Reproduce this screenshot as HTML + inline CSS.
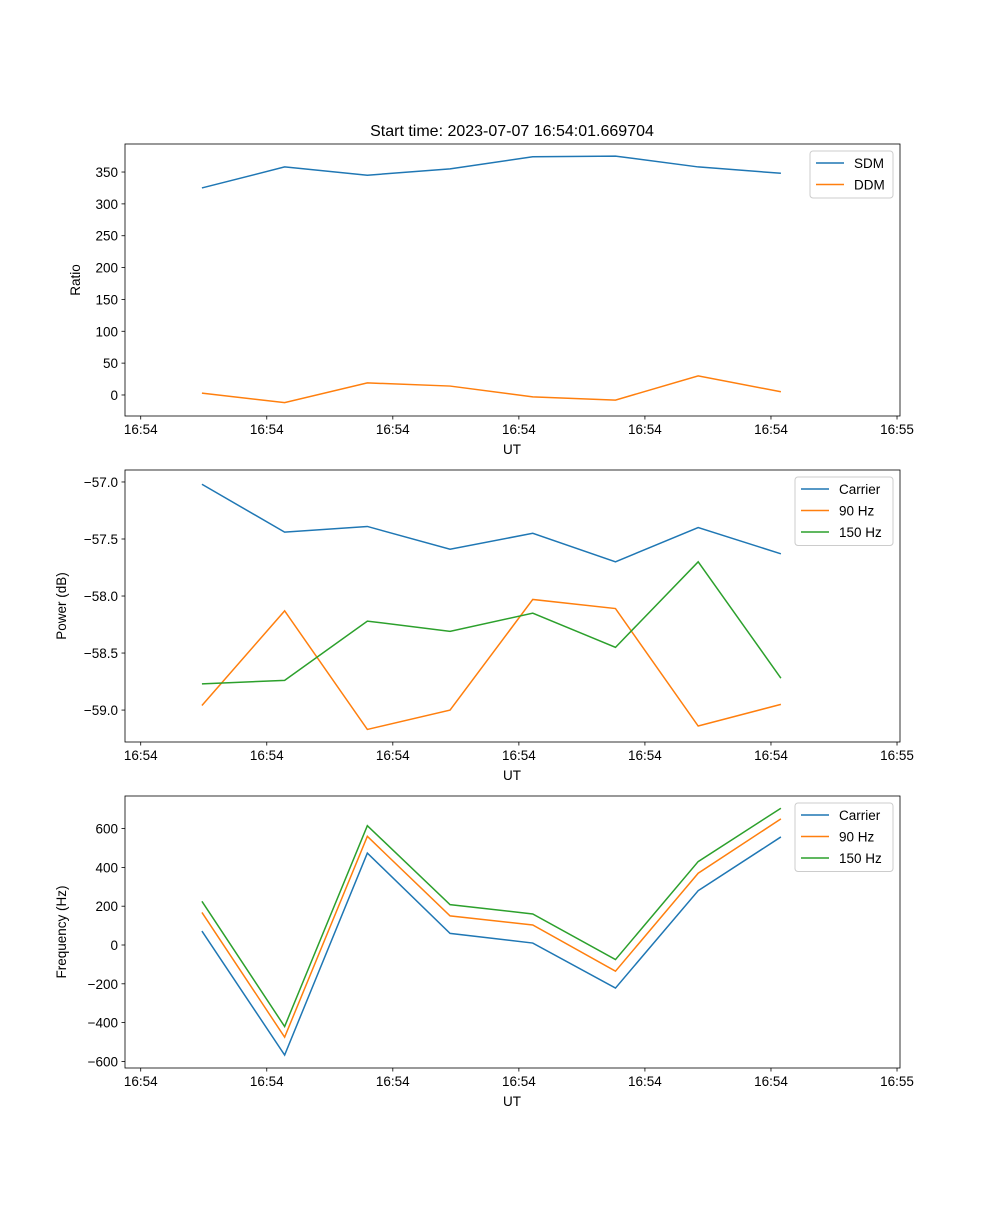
<!DOCTYPE html>
<html><head><meta charset="utf-8"><style>
body{margin:0;background:#fff}
svg text{font-family:"Liberation Sans","DejaVu Sans",sans-serif;fill:#000}
</style></head><body>
<svg id="fig" width="1000" height="1200" xmlns="http://www.w3.org/2000/svg">
<rect width="1000" height="1200" fill="#fff"/>
<text x="512" y="136" font-size="16" text-anchor="middle">Start time: 2023-07-07 16:54:01.669704</text>
</svg>
<script>
const xIndex=[0,1,2,3,4,5,6,7];
const xTickPos=[-0.74,0.784,2.308,3.832,5.356,6.88,8.404];
const xTickLabels=["16:54","16:54","16:54","16:54","16:54","16:54","16:55"];
const sdm=[325,358,345,355,374,375,358,348];
const ddm=[3,-12,19,14,-3,-8,30,5];
const pCarrier=[-57.02,-57.44,-57.39,-57.59,-57.45,-57.70,-57.40,-57.63];
const p90=[-58.96,-58.13,-59.17,-59.0,-58.03,-58.11,-59.14,-58.95];
const p150=[-58.77,-58.74,-58.22,-58.31,-58.15,-58.45,-57.70,-58.72];
const fCarrier=[72,-567,474,60,10,-222,280,557];
const f90=[168,-475,560,150,103,-135,370,650];
const f150=[225,-420,615,208,160,-75,430,705];
const ticks1=[0,50,100,150,200,250,300,350];
const ticks2=[-57.0,-57.5,-58.0,-58.5,-59.0];
const ticks3=[-600,-400,-200,0,200,400,600];
const C=["#1f77b4","#ff7f0e","#2ca02c"];
const NS="http://www.w3.org/2000/svg";
const svg=document.getElementById('fig');
function mk(t,a,p){const e=document.createElementNS(NS,t);for(const k in a)e.setAttribute(k,a[k]);(p||svg).appendChild(e);return e;}
const L=125,R=900;
function xs(i){return L+(i-(-0.93))/(8.44-(-0.93))*(R-L);}
function panel(name,top,bot,ymin,ymax,yt,fmt,ylabel,series,legend,lx,lw){
 const g=mk('g',{});
 
 
 const ys=v=>bot-(v-ymin)/(ymax-ymin)*(bot-top);
 series.forEach((s,k)=>{
  const pl=mk('polyline',{points:s.map((v,i)=>xs(xIndex[i])+','+ys(v)).join(' '),fill:'none',stroke:C[k],'stroke-width':1.5},g);
  
  
 });
 mk('rect',{x:L,y:top,width:R-L,height:bot-top,fill:'none',stroke:'#000','stroke-width':0.8},g);
 xTickPos.forEach((v,i)=>{const x=xs(v);mk('line',{x1:x,x2:x,y1:bot,y2:bot+3.5,stroke:'#000','stroke-width':0.8},g);
  const t=mk('text',{x:x,y:bot+18,'font-size':13.5,'text-anchor':'middle'},g);t.textContent=xTickLabels[i];
  });
 yt.forEach(v=>{const y=ys(v);mk('line',{x1:L,x2:L-3.5,y1:y,y2:y,stroke:'#000','stroke-width':0.8},g);
  const t=mk('text',{x:L-7,y:y+5,'font-size':13.5,'text-anchor':'end'},g);t.textContent=fmt(v);
  });
 const xl=mk('text',{x:512,y:bot+38,'font-size':13.5,'text-anchor':'middle'},g);xl.textContent='UT';
 
 const ylx=name==='ratio'?80:66;
 const yl=mk('text',{x:ylx,y:(top+bot)/2,'font-size':13.5,'text-anchor':'middle',transform:`rotate(-90 ${ylx} ${(top+bot)/2})`},g);yl.textContent=ylabel;
 
 const lg=mk('g',{},g);
 mk('rect',{x:lx,y:top+7,width:lw,height:legend.length*21.5+4,rx:3,fill:'#fff','fill-opacity':0.8,stroke:'#ccc'},lg);
 legend.forEach((n,k)=>{const y=top+19+k*21.5;mk('line',{x1:lx+6,x2:lx+34,y1:y,y2:y,stroke:C[k],'stroke-width':1.5},lg);
  const t=mk('text',{x:lx+44,y:y+5,'font-size':13.5},lg);t.textContent=n;
  });
}
panel('ratio',144,416,-33,394,ticks1,v=>String(v),'Ratio',[sdm,ddm],['SDM','DDM'],810,83);
panel('power',470,742,-59.28,-56.895,ticks2,v=>'\u2212'+Math.abs(v).toFixed(1),'Power (dB)',[pCarrier,p90,p150],['Carrier','90 Hz','150 Hz'],795,98);
panel('frequency',796,1068,-634,768,ticks3,v=>v<0?'\u2212'+Math.abs(v):String(v),'Frequency (Hz)',[fCarrier,f90,f150],['Carrier','90 Hz','150 Hz'],795,98);
</script>
</body></html>
